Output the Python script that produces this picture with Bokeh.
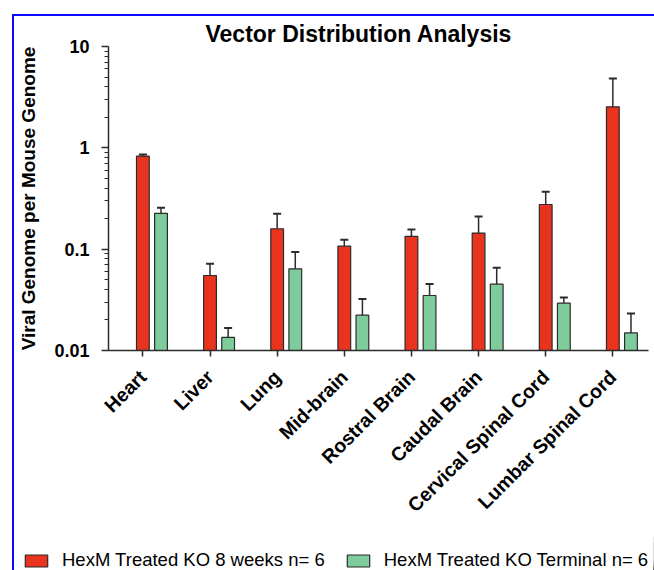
import math
from bokeh.plotting import figure
from bokeh.layouts import column
from bokeh.models import (ColumnDataSource, Whisker, TeeHead, Legend, LegendItem,
                          FixedTicker)
from bokeh.transform import dodge
from bokeh.embed import file_html
from bokeh.resources import INLINE

# ---------------- data ----------------
organs = ["Heart", "Liver", "Lung", "Mid-brain", "Rostral Brain",
          "Caudal Brain", "Cervical Spinal Cord", "Lumbar Spinal Cord"]
wk8_mean = [0.83, 0.055, 0.159, 0.107, 0.134, 0.144, 0.276, 2.54]
wk8_upper = [0.86, 0.0716, 0.223, 0.124, 0.156, 0.210, 0.368, 4.84]
term_mean = [0.226, 0.0135, 0.064, 0.0223, 0.0349, 0.0451, 0.0293, 0.0149]
term_upper = [0.256, 0.0167, 0.094, 0.0323, 0.0454, 0.0654, 0.0334, 0.0232]
series_labels = ["HexM Treated KO 8 weeks n= 6", "HexM Treated KO Terminal n= 6"]
y_ticks = [0.01, 0.1, 1, 10]
y_tick_labels = ["0.01", "0.1", "1", "10"]
title_text = "Vector Distribution Analysis"
y_label = "Viral Genome per Mouse Genome"

RED = "#E8341E"
GREEN = "#7ECB9B"
DARK = "#2b2b2b"
FONT = "Liberation Sans"

src = ColumnDataSource(dict(pos=list(range(len(organs))), organ=organs,
                            wk8=wk8_mean, wk8_hi=wk8_upper,
                            term=term_mean, term_hi=term_upper))

p = figure(width=640, height=520, y_axis_type="log",
           x_range=(-0.512, 7.531), y_range=(0.01, 10),
           output_backend="svg", toolbar_location=None,
           min_border_left=94, min_border_right=6,
           min_border_top=30, min_border_bottom=186)
p.frame_align = False

BW = 0.19
OFF = 0.27
r1 = p.vbar(x="pos", top="wk8", bottom=0.001, width=BW, source=src,
            fill_color=RED, line_color=DARK, line_width=1.2)
r2 = p.vbar(x=dodge("pos", OFF), top="term", bottom=0.001, width=BW, source=src,
            fill_color=GREEN, line_color=DARK, line_width=1.2)

for base, lo, hi in [("pos", "wk8", "wk8_hi"), (dodge("pos", OFF), "term", "term_hi")]:
    w = Whisker(source=src, base=base, lower=lo, upper=hi,
                line_color=DARK, line_width=1.5,
                lower_head=None,
                upper_head=TeeHead(size=8, line_color=DARK, line_width=2))
    p.add_layout(w)

# axes
minor = [k * 10 ** e for e in (-2, -1, 0) for k in range(2, 10)]
p.yaxis.ticker = FixedTicker(ticks=y_ticks, minor_ticks=minor)
p.yaxis.major_label_overrides = {t: l for t, l in zip(y_ticks, y_tick_labels)}
p.xaxis.ticker = FixedTicker(ticks=list(range(len(organs))))
p.xaxis.major_label_overrides = {i: o for i, o in enumerate(organs)}
p.xaxis.major_label_orientation = math.pi / 4

for ax in (p.xaxis[0], p.yaxis[0]):
    ax.axis_line_color = DARK
    ax.axis_line_width = 1.5
    ax.major_tick_line_color = DARK
    ax.major_tick_line_width = 1.5
    ax.minor_tick_line_color = DARK
    ax.major_tick_in = 0
    ax.minor_tick_in = 0
    ax.major_label_text_font = FONT
    ax.major_label_text_font_style = "bold"
    ax.major_label_text_color = "black"

p.yaxis.major_tick_out = 7
p.yaxis.minor_tick_out = 4
p.yaxis.major_label_text_font_size = "18px"
p.yaxis.major_label_standoff = 12
p.yaxis.axis_label = y_label
p.yaxis.axis_label_text_font = FONT
p.yaxis.axis_label_text_font_style = "bold"
p.yaxis.axis_label_text_font_size = "19px"
p.yaxis.axis_label_text_color = "black"
p.yaxis.axis_label_standoff = 12

p.xaxis.major_tick_out = 6
p.xaxis.minor_tick_out = 0
p.xaxis.major_label_text_font_size = "19.5px"
p.xaxis.major_label_standoff = 17

p.xgrid.visible = False
p.ygrid.visible = False
p.outline_line_color = None

p.title.text = title_text
p.title.text_font = FONT
p.title.text_font_style = "bold"
p.title.text_font_size = "23px"
p.title.text_color = "black"
p.title.align = "left"
p.title.offset = 97
p.title.standoff = 0

# legend strip below the chart (its swatches reuse the chart's data, drawn off-view)
p2 = figure(width=640, height=34, x_range=(-100, -99), y_range=(0, 1),
            output_backend="svg", toolbar_location=None,
            x_axis_location=None, y_axis_location=None,
            min_border_left=0, min_border_right=0,
            min_border_top=0, min_border_bottom=0)
p2.frame_align = False
p2.xgrid.visible = False
p2.ygrid.visible = False
p2.outline_line_color = None
l1 = p2.vbar(x="pos", top="wk8", width=BW, source=src,
             fill_color=RED, line_color=DARK, line_width=1.2)
l2 = p2.vbar(x="pos", top="term", width=BW, source=src,
             fill_color=GREEN, line_color=DARK, line_width=1.2)

legend = Legend(items=[LegendItem(label=series_labels[0], renderers=[l1]),
                       LegendItem(label=series_labels[1], renderers=[l2])],
                orientation="horizontal", location=(8, -1),
                glyph_width=28, glyph_height=15, label_height=15,
                label_standoff=12, spacing=19,
                padding=0, margin=0, border_line_color=None,
                background_fill_alpha=0,
                label_text_font=FONT, label_text_font_size="18.5px",
                label_text_color="black")
p2.add_layout(legend)

layout = column(p, p2, spacing=0)
layout.styles = {"margin-left": "12px", "margin-top": "14px",
                 "border-left": "2px solid #0a0aff", "border-top": "2px solid #0a0aff"}

open("out.html", "w").write(file_html(layout, INLINE))
